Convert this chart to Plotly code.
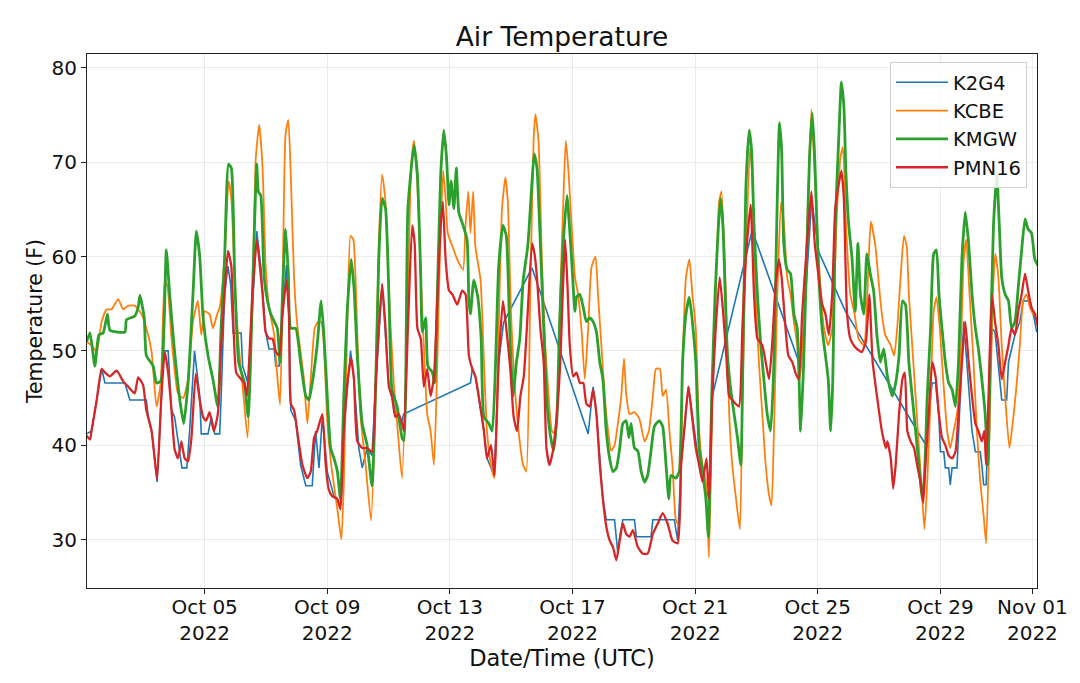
import pandas as pd
import plotly.graph_objects as go

# ---- data: day offsets from 2022-10-01 00:00 UTC, temperatures in F ----
k2g4_day = [0.15, 0.31, 0.48, 0.64, 0.75, 1.40, 1.56, 2.10, 2.16, 2.27, 2.37, 2.45, 2.59, 2.65, 2.81, 2.92,
            3.02, 3.13, 3.26, 3.42, 3.51, 3.67, 3.84, 3.89, 4.11, 4.22, 4.33, 4.49, 4.54, 4.65, 4.76, 4.85,
            4.93, 5.19, 5.24, 5.41, 5.45, 5.70, 5.83, 5.99, 6.10, 6.27, 6.32, 6.43, 6.54, 6.67, 6.75, 6.81,
            6.97, 7.13, 7.30, 7.51, 7.62, 7.73, 7.84, 8.00, 8.22, 8.43, 8.54, 8.76, 8.87, 9.03, 9.14, 9.30,
            9.46, 9.57, 9.79, 10.01, 10.28, 10.44, 10.49, 12.67, 12.73, 12.83, 12.98, 13.11, 13.21, 13.45,
            13.59, 13.75, 14.68, 16.51, 16.67, 16.78, 16.99, 17.10, 17.37, 17.43, 17.48, 17.54, 17.64, 18.02,
            18.08, 18.56, 18.62, 19.32, 19.43, 19.54, 19.78, 20.13, 20.45, 20.56, 21.86, 23.45, 23.60, 23.80,
            24.03, 24.90, 27.51, 27.73, 27.84, 27.95, 28.00, 28.11, 28.16, 28.27, 28.32, 28.38, 28.54, 28.59,
            28.76, 28.86, 29.03, 29.14, 29.30, 29.35, 29.41, 29.49, 29.57, 29.68, 29.78, 29.95, 30.00, 30.16,
            30.22, 30.32, 30.43, 30.59, 30.70, 30.92, 31.03, 31.14]
k2g4_temp = [41.2, 41.5, 44.8, 48.1, 46.6, 46.6, 44.8, 44.8, 43.0, 41.5, 38.6, 36.1, 45.2, 50.0, 50.0, 43.7,
             43.0, 40.4, 37.6, 37.6, 41.5, 50.0, 45.2, 41.2, 41.2, 43.0, 41.2, 41.2, 45.2, 56.0, 59.0, 57.0,
             51.9, 51.9, 48.4, 46.6, 48.4, 62.7, 59.0, 52.0, 50.2, 50.2, 48.4, 48.4, 53.9, 59.1, 54.0, 43.7,
             42.6, 37.9, 35.7, 35.7, 41.5, 37.6, 43.0, 37.2, 34.6, 33.6, 41.5, 50.0, 47.0, 39.7, 37.6, 39.7,
             38.9, 45.9, 57.1, 46.2, 43.0, 42.6, 43.3, 46.6, 48.1, 47.3, 44.4, 41.5, 38.6, 36.8,
             48.8, 53.0, 58.8, 41.2, 46.2, 43.3, 34.3, 32.1, 32.1, 30.3, 28.5, 30.3, 32.1, 32.1,
             30.3, 30.3, 32.1, 32.1, 29.9, 37.9, 46.2, 37.9, 34.3, 45.2, 62.8, 48.2, 56.0, 66.0,
             60.5, 54.2, 40.1, 46.6, 46.6, 43.0, 39.3, 39.3, 37.6, 37.6, 35.8, 37.6, 37.6, 41.5,
             53.1, 48.8, 41.5, 39.3, 39.3, 37.9, 35.8, 35.8, 43.3, 52.4, 52.0, 46.6, 44.8, 44.8,
             48.8, 50.2, 51.7, 53.1, 55.3, 55.3, 53.9, 52.0]

kcbe_day = [0.15, 0.31, 0.48, 0.64, 0.80, 0.96, 1.18, 1.34, 1.51, 1.72, 1.94, 2.10, 2.27, 2.43, 2.57, 2.70,
            2.79, 2.92, 3.13, 3.30, 3.46, 3.62, 3.78, 3.89, 4.00, 4.16, 4.27, 4.41, 4.49, 4.65, 4.78, 4.87,
            5.00, 5.11, 5.25, 5.40, 5.56, 5.67, 5.78, 5.89, 5.99, 6.10, 6.27, 6.37, 6.46, 6.54, 6.64, 6.73,
            6.81, 6.92, 7.02, 7.13, 7.24, 7.35, 7.46, 7.59, 7.70, 7.80, 7.89, 8.00, 8.13, 8.33, 8.46, 8.54,
            8.65, 8.76, 8.85, 8.98, 9.08, 9.25, 9.43, 9.57, 9.68, 9.79, 9.90, 10.01, 10.17, 10.30, 10.44,
            10.63, 10.74, 10.83, 10.94, 11.05, 11.15, 11.26, 11.37, 11.48, 11.59, 11.67, 11.78, 11.86, 11.93,
            12.08, 12.24, 12.43, 12.51, 12.60, 12.67, 12.76, 12.83, 13.00, 13.11, 13.21, 13.34, 13.45, 13.59,
            13.70, 13.81, 13.89, 13.99, 14.10, 14.24, 14.39, 14.49, 14.62, 14.73, 14.79, 14.89, 15.00, 15.11,
            15.22, 15.33, 15.44, 15.60, 15.71, 15.78, 15.86, 15.97, 16.08, 16.18, 16.29, 16.40, 16.51, 16.62,
            16.75, 16.83, 16.94, 17.05, 17.16, 17.26, 17.37, 17.48, 17.59, 17.68, 17.75, 17.86, 18.02, 18.18,
            18.35, 18.49, 18.62, 18.72, 18.85, 18.94, 19.05, 19.16, 19.26, 19.37, 19.48, 19.59, 19.70, 19.81,
            19.91, 20.02, 20.13, 20.24, 20.35, 20.45, 20.56, 20.67, 20.78, 20.86, 21.00, 21.11, 21.21, 21.32,
            21.46, 21.54, 21.65, 21.79, 21.86, 21.97, 22.08, 22.19, 22.30, 22.41, 22.49, 22.57, 22.68, 22.80,
            22.90, 23.00, 23.11, 23.22, 23.33, 23.41, 23.54, 23.69, 23.79, 23.90, 24.03, 24.20, 24.34, 24.47,
            24.63, 24.74, 24.82, 24.92, 25.06, 25.20, 25.33, 25.50, 25.66, 25.73, 25.88, 25.98, 26.09, 26.20,
            26.38, 26.49, 26.59, 26.70, 26.81, 26.90, 26.97, 27.08, 27.19, 27.30, 27.41, 27.48, 27.57, 27.68,
            27.78, 27.87, 27.98, 28.09, 28.22, 28.32, 28.43, 28.54, 28.65, 28.76, 28.84, 28.95, 29.08, 29.19,
            29.30, 29.41, 29.49, 29.60, 29.71, 29.79, 29.89, 30.00, 30.11, 30.25, 30.38, 30.49, 30.59, 30.70,
            30.81, 30.92, 31.03, 31.14]
kcbe_temp = [51.0, 50.6, 49.9, 53.1, 54.4, 54.4, 55.5, 54.4, 54.8, 54.8, 53.9, 52.4, 49.9, 44.1, 46.6, 57.5,
             56.8, 51.3, 45.5, 45.0, 47.0, 53.1, 55.3, 51.7, 54.2, 53.9, 52.4, 53.9, 54.6, 59.7, 68.0, 66.2,
             56.0, 50.6, 45.9, 40.8, 56.0, 70.5, 74.0, 69.4, 59.0, 54.6, 51.7, 47.3, 44.3, 56.0, 73.0, 74.5,
             68.7, 57.5, 52.8, 49.9, 47.0, 42.3, 47.0, 52.4, 53.1, 53.1, 50.6, 42.6, 37.9, 33.2, 30.0, 36.1,
             52.4, 62.2, 61.8, 51.7, 43.3, 37.9, 32.0, 45.2, 61.4, 68.7, 65.8, 56.0, 46.6, 41.5, 36.5,
             56.0, 69.8, 72.3, 67.6, 57.8, 50.6, 43.3, 41.5, 37.9, 48.8, 59.7, 69.1, 66.2, 62.5,
             61.1, 59.7, 58.6, 63.3, 66.9, 62.5, 66.9, 61.1, 57.5, 48.8, 41.5, 37.9, 36.5, 52.4,
             65.1, 68.4, 65.8, 54.2, 47.0, 41.5, 37.9, 37.2, 56.0, 72.3, 75.1, 72.3, 59.7, 50.6,
             45.2, 41.5, 41.2, 56.0, 66.9, 72.3, 69.4, 63.3, 57.8, 56.0, 52.4, 47.0, 52.4, 58.9,
             60.0, 56.0, 50.6, 45.2, 41.5, 39.4, 40.0, 42.3, 45.2, 49.2, 45.5, 43.3, 43.5, 42.8,
             40.4, 41.5, 45.2, 48.1, 48.1, 45.2, 45.9, 41.5, 37.9, 32.1, 31.4, 48.8, 57.8, 59.7,
             56.0, 52.4, 41.5, 37.9, 36.1, 28.1, 45.2, 56.0, 65.8, 66.9, 56.0, 43.3, 37.9, 34.7,
             31.1, 45.2, 59.7, 71.6, 68.7, 56.0, 48.8, 43.3, 37.9, 34.7, 33.6, 41.5, 56.0, 65.8,
             63.3, 57.8, 56.0, 53.1, 50.6, 47.0, 52.4, 66.9, 75.6, 68.7, 59.7, 52.4, 50.6, 52.4,
             65.1, 70.5, 71.6, 63.3, 56.0, 53.9, 51.3, 50.6, 59.7, 63.7, 61.1, 57.5, 53.9, 51.7,
             50.6, 49.5, 52.4, 57.8, 62.2, 61.1, 56.0, 50.6, 45.2, 39.7, 34.3, 31.1, 36.1, 45.2,
             54.2, 55.7, 52.4, 47.0, 41.5, 39.7, 41.5, 43.3, 48.8, 59.7, 61.8, 56.0, 48.8, 41.5,
             36.1, 32.5, 29.6, 41.5, 56.0, 60.3, 57.8, 50.6, 45.2, 39.7, 43.0, 46.6, 50.6, 55.3,
             56.0, 54.6, 53.9, 53.9]

kmgw_day = [0.15, 0.26, 0.42, 0.55, 0.69, 0.83, 0.91, 1.40, 1.45, 1.72, 1.83, 1.89, 2.03, 2.10, 2.32, 2.43,
            2.57, 2.68, 2.75, 2.86, 3.00, 3.19, 3.32, 3.46, 3.62, 3.73, 3.84, 3.95, 4.11, 4.27, 4.43, 4.54,
            4.65, 4.78, 4.87, 4.98, 5.11, 5.30, 5.42, 5.56, 5.70, 5.75, 5.83, 5.94, 6.05, 6.16, 6.27, 6.37,
            6.46, 6.54, 6.64, 6.73, 6.81, 6.97, 7.13, 7.30, 7.40, 7.51, 7.67, 7.80, 7.89, 8.00, 8.11, 8.22,
            8.33, 8.43, 8.54, 8.65, 8.78, 8.87, 8.98, 9.14, 9.30, 9.46, 9.57, 9.68, 9.79, 9.90, 10.01, 10.11,
            10.28, 10.44, 10.50, 10.63, 10.83, 10.94, 11.05, 11.10, 11.21, 11.28, 11.43, 11.50, 11.59, 11.70,
            11.80, 11.89, 11.97, 12.04, 12.13, 12.21, 12.29, 12.43, 12.56, 12.62, 12.67, 12.78, 12.91, 13.02,
            13.11, 13.27, 13.38, 13.49, 13.59, 13.73, 13.84, 13.95, 14.06, 14.17, 14.28, 14.39, 14.54, 14.68,
            14.75, 14.84, 14.95, 15.06, 15.17, 15.27, 15.38, 15.49, 15.58, 15.69, 15.82, 15.86, 15.97, 16.08,
            16.13, 16.24, 16.35, 16.45, 16.56, 16.67, 16.78, 16.89, 16.99, 17.10, 17.21, 17.32, 17.43, 17.54,
            17.64, 17.75, 17.84, 17.91, 18.02, 18.13, 18.24, 18.35, 18.45, 18.56, 18.67, 18.83, 18.94, 19.05,
            19.14, 19.21, 19.37, 19.48, 19.59, 19.70, 19.81, 19.91, 20.02, 20.13, 20.24, 20.35, 20.43, 20.54,
            20.65, 20.76, 20.83, 20.91, 20.98, 21.05, 21.16, 21.27, 21.38, 21.49, 21.54, 21.65, 21.76, 21.84,
            21.92, 22.03, 22.14, 22.24, 22.35, 22.46, 22.57, 22.66, 22.75, 22.82, 22.89, 23.00, 23.11, 23.22,
            23.33, 23.44, 23.54, 23.65, 23.73, 23.82, 23.90, 24.01, 24.14, 24.25, 24.34, 24.42, 24.49, 24.57,
            24.68, 24.77, 24.85, 24.92, 25.01, 25.12, 25.22, 25.31, 25.39, 25.50, 25.60, 25.71, 25.82, 25.93,
            26.04, 26.15, 26.27, 26.43, 26.54, 26.65, 26.76, 26.86, 26.97, 27.08, 27.19, 27.30, 27.41, 27.48,
            27.57, 27.68, 27.78, 27.87, 27.95, 28.05, 28.16, 28.27, 28.38, 28.49, 28.59, 28.70, 28.81, 28.92,
            29.03, 29.14, 29.24, 29.35, 29.46, 29.55, 29.62, 29.73, 29.84, 29.92, 30.00, 30.11, 30.22, 30.32,
            30.43, 30.54, 30.65, 30.76, 30.86, 30.97, 31.08, 31.19]
kmgw_temp = [51.0, 51.9, 48.4, 51.7, 51.9, 53.9, 52.2, 52.0, 53.3, 53.7, 54.6, 55.9, 53.5, 49.5, 48.4, 46.6,
             46.8, 53.1, 60.7, 56.0, 50.6, 44.8, 42.3, 46.6, 56.0, 62.7, 60.0, 53.5, 49.5, 47.0, 44.1, 52.7,
             59.7, 69.8, 69.4, 57.8, 48.8, 46.6, 43.0, 56.0, 69.8, 66.9, 66.5, 57.8, 55.3, 53.9, 53.1, 52.4,
             48.8, 56.0, 62.9, 58.2, 52.4, 52.4, 48.8, 45.2, 44.8, 46.6, 50.6, 55.3, 51.7, 45.2, 39.7, 38.6,
             37.2, 34.3, 45.2, 54.2, 59.7, 56.8, 49.5, 42.3, 40.0, 35.7, 45.2, 59.7, 66.2, 65.1, 56.0, 45.9,
             44.1, 40.8, 40.5, 65.1, 71.8, 68.7, 57.8, 52.0, 53.5, 48.4, 47.7, 46.6, 56.0, 68.7,
             73.4, 70.5, 65.5, 68.0, 65.1, 69.4, 64.7, 63.3, 61.8, 55.3, 53.9, 57.5, 55.7, 51.3,
             43.0, 42.3, 41.5, 48.8, 58.9, 63.3, 62.2, 52.4, 45.2, 48.8, 51.3, 57.5, 61.1, 68.0,
             70.9, 69.4, 61.4, 52.4, 44.4, 41.2, 39.4, 43.0, 53.1, 61.1, 66.5, 65.1, 59.7, 54.2,
             55.7, 56.0, 54.6, 53.1, 53.5, 53.1, 52.0, 48.8, 47.0, 41.5, 38.6, 37.2, 37.6, 39.7,
             42.3, 42.6, 40.8, 42.3, 39.7, 39.4, 37.2, 36.1, 36.8, 39.4, 42.0, 42.6, 42.0, 37.9,
             34.3, 36.8, 36.5, 37.2, 48.8, 53.9, 55.7, 53.1, 48.8, 39.7, 37.2, 34.3, 30.3, 45.2,
             56.0, 63.3, 66.2, 63.0, 56.0, 49.8, 45.9, 43.3, 40.8, 37.9, 45.2, 66.9, 73.4, 71.3,
             63.3, 56.0, 50.6, 47.0, 43.3, 41.5, 48.8, 63.3, 74.2, 71.3, 61.4, 58.6, 58.2, 53.9,
             52.4, 41.5, 48.8, 61.4, 70.5, 75.2, 70.5, 59.7, 52.4, 49.5, 47.0, 41.5, 47.0, 63.3,
             72.3, 78.5, 76.0, 68.7, 63.3, 59.7, 54.2, 61.4, 56.0, 53.9, 60.3, 58.2, 56.4, 51.6,
             48.8, 50.2, 47.3, 45.2, 46.6, 49.5, 55.3, 54.9, 48.8, 45.2, 41.5, 37.9, 34.3, 36.8,
             45.2, 52.4, 60.3, 60.7, 56.0, 52.4, 48.8, 46.6, 45.9, 44.1, 48.8, 59.7, 64.7, 61.4,
             56.0, 52.4, 50.2, 47.0, 43.3, 37.9, 48.8, 63.3, 68.7, 63.3, 57.8, 56.0, 55.3, 52.4,
             53.1, 56.8, 60.7, 64.0, 62.9, 62.5, 59.7, 59.0]

pmn16_day = [0.15, 0.26, 0.31, 0.48, 0.64, 0.75, 0.91, 1.13, 1.34, 1.51, 1.72, 1.83, 1.99, 2.10, 2.27, 2.37,
             2.45, 2.59, 2.70, 2.81, 2.92, 3.02, 3.13, 3.24, 3.35, 3.46, 3.57, 3.71, 3.84, 3.95, 4.05, 4.16,
             4.30, 4.43, 4.54, 4.65, 4.76, 4.87, 5.03, 5.19, 5.29, 5.38, 5.45, 5.56, 5.70, 5.78, 5.89, 5.99,
             6.10, 6.21, 6.32, 6.43, 6.54, 6.67, 6.75, 6.81, 6.92, 7.02, 7.19, 7.35, 7.46, 7.57, 7.67, 7.84,
             7.95, 8.05, 8.16, 8.33, 8.43, 8.54, 8.67, 8.78, 8.87, 8.98, 9.14, 9.30, 9.46, 9.57, 9.68, 9.79,
             9.90, 10.01, 10.11, 10.22, 10.33, 10.44, 10.50, 10.63, 10.77, 10.85, 10.94, 11.05, 11.15, 11.26,
             11.37, 11.48, 11.59, 11.70, 11.77, 11.86, 11.97, 12.08, 12.24, 12.40, 12.51, 12.62, 12.73, 12.83,
             12.98, 13.11, 13.21, 13.34, 13.45, 13.59, 13.73, 13.84, 13.97, 14.08, 14.19, 14.30, 14.41, 14.51,
             14.68, 14.76, 14.84, 14.95, 15.06, 15.15, 15.25, 15.36, 15.49, 15.60, 15.68, 15.76, 15.84, 15.91,
             16.02, 16.13, 16.24, 16.35, 16.45, 16.56, 16.67, 16.78, 16.89, 16.99, 17.10, 17.21, 17.32, 17.43,
             17.54, 17.64, 17.75, 17.86, 17.97, 18.13, 18.29, 18.45, 18.62, 18.78, 18.94, 19.10, 19.26, 19.43,
             19.54, 19.64, 19.78, 19.89, 20.02, 20.13, 20.24, 20.37, 20.45, 20.56, 20.67, 20.80, 20.91, 21.02,
             21.11, 21.21, 21.32, 21.43, 21.54, 21.65, 21.81, 21.92, 22.03, 22.19, 22.30, 22.41, 22.51, 22.62,
             22.73, 22.82, 22.93, 23.04, 23.17, 23.27, 23.38, 23.49, 23.65, 23.79, 23.90, 24.03, 24.14, 24.25,
             24.36, 24.47, 24.57, 24.68, 24.77, 24.85, 24.95, 25.06, 25.17, 25.28, 25.44, 25.57, 25.68, 25.79,
             25.93, 26.09, 26.22, 26.27, 26.38, 26.46, 26.54, 26.65, 26.76, 26.84, 26.92, 27.03, 27.14, 27.24,
             27.35, 27.44, 27.51, 27.62, 27.73, 27.84, 27.95, 28.05, 28.16, 28.27, 28.38, 28.49, 28.59, 28.70,
             28.81, 28.92, 29.03, 29.14, 29.24, 29.35, 29.43, 29.49, 29.57, 29.68, 29.78, 29.89, 30.00, 30.11,
             30.22, 30.32, 30.43, 30.54, 30.65, 30.76, 30.86, 30.97, 31.08, 31.19]
pmn16_temp = [41.0, 40.6, 41.5, 44.8, 48.1, 47.7, 47.3, 47.9, 46.8, 46.2, 45.5, 47.2, 46.4, 43.7, 41.5, 38.6,
              36.4, 45.2, 49.9, 47.7, 43.7, 39.6, 38.6, 40.4, 38.6, 38.3, 40.8, 47.6, 44.8, 43.0, 42.6, 43.5,
              41.5, 43.3, 50.6, 56.0, 60.6, 59.0, 47.7, 47.0, 46.6, 45.2, 48.8, 56.0, 61.8, 59.7, 56.0, 52.0,
              51.3, 51.3, 49.9, 49.5, 53.9, 57.5, 53.9, 44.4, 43.7, 41.5, 37.9, 36.5, 37.2, 40.8, 41.5, 43.3,
              37.9, 35.3, 34.6, 34.3, 33.2, 41.5, 47.0, 49.2, 47.0, 40.4, 39.7, 39.7, 39.3, 45.9, 52.4, 57.1,
              52.4, 46.2, 45.2, 43.0, 43.3, 42.3, 41.5, 52.4, 63.3, 61.4, 52.4, 51.3, 46.2, 48.1,
              45.2, 47.3, 55.3, 63.3, 65.8, 59.7, 56.4, 56.0, 54.9, 56.4, 56.0, 49.5, 48.1, 47.3,
              44.4, 41.5, 38.6, 40.0, 36.8, 48.8, 55.3, 52.4, 48.1, 43.0, 41.5, 45.2, 47.3, 52.4,
              61.4, 60.3, 57.8, 52.4, 48.8, 39.7, 37.9, 39.4, 43.3, 48.8, 56.0, 61.8, 56.5, 50.6,
              47.3, 47.7, 46.6, 46.6, 44.4, 44.1, 45.9, 43.3, 37.9, 34.3, 31.4, 29.9, 29.2, 27.8,
              29.9, 31.7, 30.6, 30.3, 31.0, 29.2, 28.5, 28.5, 30.6, 31.7, 32.8, 31.7, 29.9, 29.6,
              37.9, 41.5, 46.2, 43.3, 39.7, 37.9, 36.1, 38.6, 34.3, 45.2, 52.4, 57.8, 54.2, 49.2,
              45.2, 44.8, 44.4, 44.1, 52.4, 59.7, 65.5, 56.0, 51.3, 50.6, 48.8, 47.0, 50.6, 56.8,
              59.7, 57.8, 53.1, 49.5, 48.8, 47.7, 47.0, 53.9, 61.4, 66.9, 61.4, 57.8, 55.0, 53.9,
              51.7, 56.0, 65.1, 67.6, 69.1, 66.2, 54.2, 51.3, 50.6, 50.2, 49.9, 51.0, 56.0, 48.8,
              45.2, 41.5, 39.7, 40.4, 38.6, 35.4, 37.9, 43.3, 47.0, 47.7, 41.5, 40.4, 39.7, 37.9,
              36.1, 33.9, 37.9, 43.3, 48.8, 47.3, 43.3, 40.8, 40.0, 38.9, 38.6, 39.3, 43.3, 48.8,
              53.1, 48.8, 45.2, 42.3, 41.5, 40.4, 41.5, 37.9, 45.2, 56.0, 53.1, 50.6, 47.0, 48.8,
              50.6, 52.4, 51.7, 54.2, 56.0, 58.2, 56.4, 54.6, 53.9, 52.4]

tick_days = [4, 8, 12, 16, 20, 24, 28, 31]
tick_labels = ["Oct 05<br>2022", "Oct 09<br>2022", "Oct 13<br>2022", "Oct 17<br>2022",
               "Oct 21<br>2022", "Oct 25<br>2022", "Oct 29<br>2022", "Nov 01<br>2022"]
y_ticks = [30, 40, 50, 60, 70, 80]

base = pd.Timestamp("2022-10-01 00:00")


def to_time(days):
    return base + pd.to_timedelta(pd.Series(days, dtype=float), unit="D")


series = [
    ("K2G4", k2g4_day, k2g4_temp, "#1f77b4", 1.6, "linear"),
    ("KCBE", kcbe_day, kcbe_temp, "#ff7f0e", 1.8, "spline"),
    ("KMGW", kmgw_day, kmgw_temp, "#2ca02c", 2.8, "spline"),
    ("PMN16", pmn16_day, pmn16_temp, "#d62728", 2.3, "spline"),
]

fig = go.Figure()
for name, days, temps, color, width, shape in series:
    line = dict(color=color, width=width, shape=shape)
    if shape == "spline":
        line["smoothing"] = 0.5
    fig.add_trace(go.Scatter(x=to_time(days), y=temps, mode="lines", name=name, line=line))

font_family = "DejaVu Sans, Liberation Sans, sans-serif"
x_start = base + pd.Timedelta(days=0.163)
x_end = base + pd.Timedelta(days=31.15)

# page body has an 8px default margin, so the figure is 16px smaller than the window
fig.update_layout(
    width=1072, height=675,
    paper_bgcolor="white", plot_bgcolor="white",
    margin=dict(l=79, r=40, t=46, b=95),
    font=dict(family=font_family, size=20, color="#111111"),
    title=dict(text="Air Temperature", x=0.5, xref="paper", xanchor="center",
               y=0.957, yanchor="middle", font=dict(size=26.5, color="#111111")),
    showlegend=True,
    legend=dict(x=0.9895, xanchor="right", y=0.985, yanchor="top",
                bgcolor="rgba(255,255,255,0.85)", bordercolor="#d0d0d0", borderwidth=1,
                font=dict(size=19.5), tracegroupgap=0, itemwidth=52),
)

fig.update_xaxes(
    type="date", range=[x_start, x_end],
    tickvals=list(to_time(tick_days)), ticktext=tick_labels,
    showgrid=True, gridcolor="#ebebeb", gridwidth=1,
    showline=True, linecolor="#222222", linewidth=1.2, mirror=True,
    ticks="outside", ticklen=5, tickcolor="#222222",
    tickfont=dict(size=20), ticklabelstandoff=-4,
    title=dict(text="Date/Time (UTC)", font=dict(size=22.5), standoff=1),
    zeroline=False,
)
fig.update_yaxes(
    range=[24.86, 81.48],
    tickvals=y_ticks,
    showgrid=True, gridcolor="#ebebeb", gridwidth=1,
    showline=True, linecolor="#222222", linewidth=1.2, mirror=True,
    ticks="outside", ticklen=5, tickcolor="#222222",
    tickfont=dict(size=20),
    title=dict(text="Temperature (F)", font=dict(size=20.5), standoff=3),
    zeroline=False,
)

fig.write_html("out.html")
